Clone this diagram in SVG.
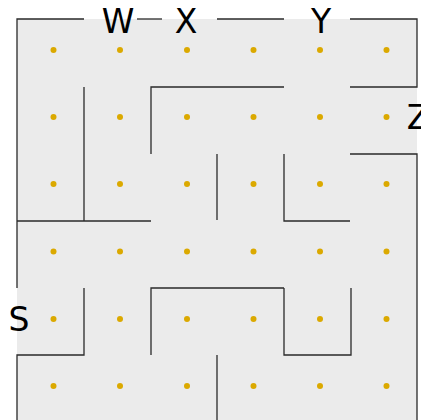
<svg xmlns="http://www.w3.org/2000/svg" width="421" height="420" viewBox="0 0 421 420">
<style>
.wall{stroke:#2a2a2a;stroke-width:1.3;fill:none;stroke-linecap:butt;stroke-linejoin:miter}
.dot{fill:#dba900}
.lbl{font-family:"DejaVu Sans",sans-serif;font-size:33px;fill:#000;text-anchor:middle}
</style>
<rect x="17" y="19" width="400" height="402" fill="#ebebeb"/>
<g id="connectors">
<path class="wall" d="M84,19 H17 V288"/>
<path class="wall" d="M137,19 H162"/>
<path class="wall" d="M217,19 H284"/>
<path class="wall" d="M350,19 H417 V87 H350"/>
<path class="wall" d="M350,154 H417 V421"/>
<path class="wall" d="M84,87 V221"/>
<path class="wall" d="M17,221 H151"/>
<path class="wall" d="M151,154 V87 H284"/>
<path class="wall" d="M217,154 V220"/>
<path class="wall" d="M284,154 V221 H350"/>
<path class="wall" d="M151,355 V288 H284"/>
<path class="wall" d="M284,288 V355 H351 V288"/>
<path class="wall" d="M217,355 V421"/>
<path class="wall" d="M84,288 V355 H17 V421"/>
</g>
<g id="dots">
<circle class="dot" cx="53.5" cy="50" r="3"/><circle class="dot" cx="120" cy="50" r="3"/><circle class="dot" cx="187" cy="50" r="3"/><circle class="dot" cx="253.5" cy="50" r="3"/><circle class="dot" cx="320" cy="50" r="3"/><circle class="dot" cx="386.5" cy="50" r="3"/>
<circle class="dot" cx="53.5" cy="117" r="3"/><circle class="dot" cx="120" cy="117" r="3"/><circle class="dot" cx="187" cy="117" r="3"/><circle class="dot" cx="253.5" cy="117" r="3"/><circle class="dot" cx="320" cy="117" r="3"/><circle class="dot" cx="386.5" cy="117" r="3"/>
<circle class="dot" cx="53.5" cy="184" r="3"/><circle class="dot" cx="120" cy="184" r="3"/><circle class="dot" cx="187" cy="184" r="3"/><circle class="dot" cx="253.5" cy="184" r="3"/><circle class="dot" cx="320" cy="184" r="3"/><circle class="dot" cx="386.5" cy="184" r="3"/>
<circle class="dot" cx="53.5" cy="251.5" r="3"/><circle class="dot" cx="120" cy="251.5" r="3"/><circle class="dot" cx="187" cy="251.5" r="3"/><circle class="dot" cx="253.5" cy="251.5" r="3"/><circle class="dot" cx="320" cy="251.5" r="3"/><circle class="dot" cx="386.5" cy="251.5" r="3"/>
<circle class="dot" cx="53.5" cy="319" r="3"/><circle class="dot" cx="120" cy="319" r="3"/><circle class="dot" cx="187" cy="319" r="3"/><circle class="dot" cx="253.5" cy="319" r="3"/><circle class="dot" cx="320" cy="319" r="3"/><circle class="dot" cx="386.5" cy="319" r="3"/>
<circle class="dot" cx="53.5" cy="386" r="3"/><circle class="dot" cx="120" cy="386" r="3"/><circle class="dot" cx="187" cy="386" r="3"/><circle class="dot" cx="253.5" cy="386" r="3"/><circle class="dot" cx="320" cy="386" r="3"/><circle class="dot" cx="386.5" cy="386" r="3"/>
</g>
<g id="label-W"><text class="lbl" x="118" y="33">W</text></g>
<g id="label-X"><text class="lbl" x="186" y="33">X</text></g>
<g id="label-Y"><text class="lbl" x="321" y="33">Y</text></g>
<g id="label-Z"><text class="lbl" x="418" y="129">Z</text></g>
<g id="label-S"><text class="lbl" x="19" y="331">S</text></g>
</svg>
